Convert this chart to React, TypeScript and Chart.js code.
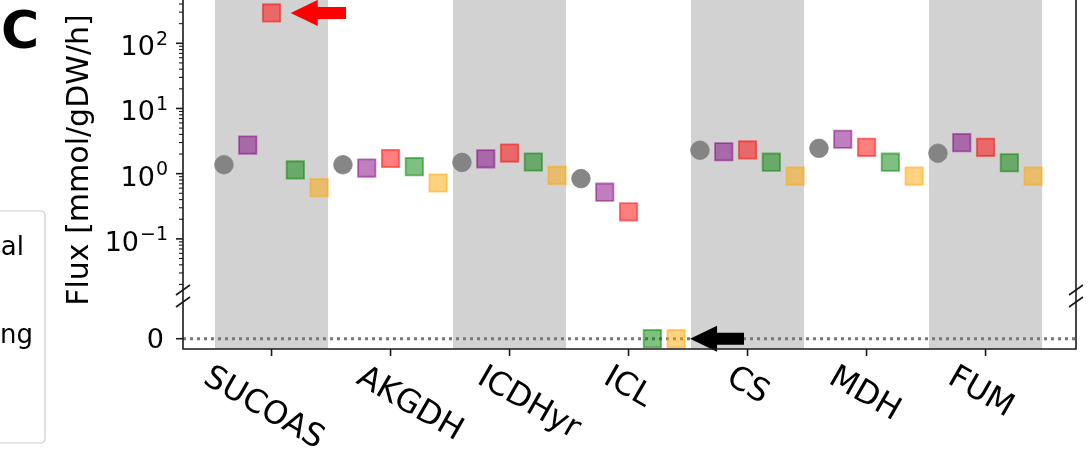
import React, { useEffect, useRef } from 'react';
import { Chart, registerables } from 'chart.js';

Chart.register(...registerables);

// ---------- data ----------
const categories = ['SUCOAS', 'AKGDH', 'ICDHyr', 'ICL', 'CS', 'MDH', 'FUM'];
const grayFlux = [1.37, 1.37, 1.49, 0.84, 2.29, 2.45, 2.06];
const purpleFlux = [2.75, 1.22, 1.69, 0.52, 2.17, 3.37, 2.99];
const redFlux = [292, 1.71, 2.07, 0.26, 2.31, 2.54, 2.54];
const greenFlux = [1.14, 1.28, 1.51, 0, 1.5, 1.5, 1.47];
const orangeFlux = [0.61, 0.72, 0.94, 0, 0.92, 0.92, 0.92];
const logTickExponents = [-1, 0, 1, 2];
const zeroTickLabels = ['0'];
const shadedCategories = [0, 2, 4, 6];
const legendFragments = ['al', 'ng'];
const yAxisTitle = 'Flux [mmol/gDW/h]';
const panelLetter = 'C';

// ---------- styling ----------
const seriesOffsets = [-0.4, -0.2, 0, 0.2, 0.4];
const labelShiftPx = [-8, 19, 19, -1, 0, -2, -5];
const SERIES = [
  { values: grayFlux, rgb: '128,128,128', alpha: 0.95, style: 'circle' },
  { values: purpleFlux, rgb: '128,0,128', alpha: 0.5, style: 'rect' },
  { values: redFlux, rgb: '255,0,0', alpha: 0.5, style: 'rect' },
  { values: greenFlux, rgb: '0,128,0', alpha: 0.5, style: 'rect' },
  { values: orangeFlux, rgb: '255,165,0', alpha: 0.5, style: 'rect' },
];
const FONT = "'DejaVu Sans', 'Liberation Sans', sans-serif";
const X_MIN = -0.744;
const X_MAX = 6.76;
const YTOP_MIN = 0.0133;
const YTOP_MAX = 461;
const YBOT_MIN = -0.241;
const YBOT_MAX = 1;

function buildDatasets() {
  const ds: any[] = [];
  SERIES.forEach((s, k) => {
    const color = `rgba(${s.rgb},${s.alpha})`;
    const common = {
      backgroundColor: color,
      borderColor: color,
      pointStyle: s.style,
      pointRadius: s.style === 'circle' ? 9.3 : 12.3,
      pointHoverRadius: s.style === 'circle' ? 9.3 : 12.3,
      borderWidth: s.style === 'circle' ? 0.8 : 1.8,
      clip: false,
    };
    const top = s.values
      .map((v, i) => (v > 0 ? { x: i + seriesOffsets[k], y: v } : null))
      .filter(Boolean);
    const bot = s.values
      .map((v, i) => (v === 0 ? { x: i + seriesOffsets[k], y: v } : null))
      .filter(Boolean);
    ds.push({ ...common, data: top, yAxisID: 'yTop' });
    if (bot.length) ds.push({ ...common, data: bot, yAxisID: 'yBot' });
  });
  return ds;
}

function drawArrow(ctx: CanvasRenderingContext2D, tipX: number, endX: number, cy: number, color: string) {
  const headLen = 27;
  const headHalf = 13;
  const tailHalf = 6;
  const baseX = tipX + headLen;
  ctx.save();
  ctx.fillStyle = color;
  ctx.beginPath();
  ctx.moveTo(tipX, cy);
  ctx.lineTo(baseX, cy - headHalf);
  ctx.lineTo(baseX, cy - tailHalf);
  ctx.lineTo(endX, cy - tailHalf);
  ctx.lineTo(endX, cy + tailHalf);
  ctx.lineTo(baseX, cy + tailHalf);
  ctx.lineTo(baseX, cy + headHalf);
  ctx.closePath();
  ctx.fill();
  ctx.restore();
}

const decor = {
  id: 'decor',
  beforeDatasetsDraw(chart: any) {
    const { ctx, chartArea: a, scales } = chart;
    const x = scales.x;
    const yb = scales.yBot;
    ctx.save();
    ctx.fillStyle = 'rgb(210,210,210)';
    for (const i of shadedCategories) {
      const l = x.getPixelForValue(i - 0.475);
      const r = x.getPixelForValue(i + 0.475);
      ctx.fillRect(l, a.top, r - l, a.bottom - a.top);
    }
    const y0 = yb.getPixelForValue(0);
    ctx.strokeStyle = 'rgb(120,120,120)';
    ctx.lineWidth = 3;
    ctx.setLineDash([3, 4]);
    ctx.beginPath();
    ctx.moveTo(a.left, y0);
    ctx.lineTo(a.right, y0);
    ctx.stroke();
    ctx.restore();
  },
  afterDatasetsDraw(chart: any) {
    const { ctx, chartArea: a, scales } = chart;
    const x = scales.x;
    const yt = scales.yTop;
    const yb = scales.yBot;

    // arrows
    drawArrow(ctx, x.getPixelForValue(0.161), x.getPixelForValue(0.626), yt.getPixelForValue(redFlux[0]), '#ff0000');
    drawArrow(ctx, x.getPixelForValue(3.517), x.getPixelForValue(3.97), yb.getPixelForValue(0), '#000000');

    ctx.save();
    const spine = '#1a1a1a';
    ctx.strokeStyle = spine;
    ctx.lineWidth = 1.6;
    ctx.beginPath();
    ctx.moveTo(a.left, a.top);
    ctx.lineTo(a.left, a.bottom);
    ctx.moveTo(a.right, a.top);
    ctx.lineTo(a.right, a.bottom);
    ctx.moveTo(a.left - 0.8, a.bottom);
    ctx.lineTo(a.right + 0.8, a.bottom);
    ctx.stroke();

    // break marks
    const yBreak = yt.bottom;
    ctx.lineWidth = 1.6;
    ctx.beginPath();
    for (const sx of [a.left, a.right]) {
      for (const dy of [-6, 6]) {
        ctx.moveTo(sx - 7, yBreak + dy + 5);
        ctx.lineTo(sx + 7, yBreak + dy - 5);
      }
    }
    ctx.stroke();

    // y ticks (log)
    for (let e = -2; e <= 2; e++) {
      for (let m = 1; m <= 9; m++) {
        const v = m * Math.pow(10, e);
        if (v < YTOP_MIN * 1.2 || v > YTOP_MAX) continue;
        const py = yt.getPixelForValue(v);
        ctx.lineWidth = m === 1 ? 1.6 : 1.1;
        const len = m === 1 ? 7 : 4;
        ctx.beginPath();
        ctx.moveTo(a.left - len, py);
        ctx.lineTo(a.left, py);
        ctx.stroke();
      }
    }
    // zero tick
    const y0 = yb.getPixelForValue(0);
    ctx.lineWidth = 1.6;
    ctx.beginPath();
    ctx.moveTo(a.left - 7, y0);
    ctx.lineTo(a.left, y0);
    ctx.stroke();
    // x ticks
    ctx.beginPath();
    categories.forEach((_, i) => {
      const px = x.getPixelForValue(i);
      ctx.moveTo(px, a.bottom);
      ctx.lineTo(px, a.bottom + 7);
    });
    ctx.stroke();

    // y tick labels
    ctx.fillStyle = '#000';
    ctx.textBaseline = 'alphabetic';
    ctx.textAlign = 'right';
    const labelRight = a.left - 15;
    for (const e of logTickExponents) {
      const py = yt.getPixelForValue(Math.pow(10, e));
      const sup = e < 0 ? '\u2212' + Math.abs(e) : String(e);
      ctx.font = `19px ${FONT}`;
      const sw = ctx.measureText(sup).width;
      ctx.fillText(sup, labelRight, py + 1.5);
      ctx.font = `27px ${FONT}`;
      ctx.fillText('10', labelRight - sw - 1, py + 12);
    }
    ctx.font = `27px ${FONT}`;
    ctx.fillText(zeroTickLabels[0], a.left - 19, y0 + 9.5);

    // x tick labels (rotated 30deg clockwise, centred)
    const xfs = 32;
    ctx.font = `${xfs}px ${FONT}`;
    ctx.textAlign = 'center';
    ctx.textBaseline = 'middle';
    const ang = Math.PI / 6;
    categories.forEach((c, i) => {
      const px = x.getPixelForValue(i);
      const w = ctx.measureText(c).width;
      const h = xfs * 0.75;
      const bh = w * Math.sin(ang) + h * Math.cos(ang);
      const cy = a.bottom + 16 + bh / 2;
      ctx.save();
      ctx.translate(px + labelShiftPx[i], cy);
      ctx.rotate(ang);
      ctx.fillText(c, 0, 0);
      ctx.restore();
    });

    // y axis title
    ctx.save();
    ctx.font = `30px ${FONT}`;
    ctx.textAlign = 'center';
    ctx.textBaseline = 'alphabetic';
    ctx.translate(88, 160);
    ctx.rotate(-Math.PI / 2);
    ctx.fillText(yAxisTitle, 0, 0);
    ctx.restore();

    // panel letter
    ctx.font = `bold 52px ${FONT}`;
    ctx.textAlign = 'left';
    ctx.textBaseline = 'alphabetic';
    ctx.fillText(panelLetter, 1, 48);

    // clipped legend of neighbouring panel
    ctx.strokeStyle = 'rgb(204,204,204)';
    ctx.lineWidth = 1.2;
    ctx.beginPath();
    (ctx as any).roundRect(-10, 211, 55, 232, 4);
    ctx.stroke();
    ctx.fillStyle = '#000';
    ctx.font = `26px ${FONT}`;
    ctx.textAlign = 'right';
    ctx.fillText(legendFragments[0], 24, 255);
    ctx.fillText(legendFragments[1], 33, 343);
    ctx.restore();
  },
};

export default function App() {
  const ref = useRef<HTMLCanvasElement>(null);
  useEffect(() => {
    document.body.style.margin = '0';
    const fitWidth = (s: any) => {
      s.width = 183;
    };
    const chart = new Chart(ref.current as HTMLCanvasElement, {
      type: 'scatter',
      data: { datasets: buildDatasets() },
      options: {
        animation: false,
        responsive: false,
        devicePixelRatio: 1,
        layout: { autoPadding: false, padding: { left: 0, right: 14, top: 0, bottom: 0 } },
        plugins: { legend: { display: false }, tooltip: { enabled: false }, title: { display: false } },
        scales: {
          x: {
            type: 'linear',
            min: X_MIN,
            max: X_MAX,
            grid: { display: false },
            border: { display: false },
            ticks: { display: false },
            afterFit: (s: any) => {
              s.height = 105;
            },
          },
          yBot: {
            type: 'linear',
            position: 'left',
            stack: 'flux',
            stackWeight: 53,
            min: YBOT_MIN,
            max: YBOT_MAX,
            grid: { display: false },
            border: { display: false },
            ticks: { display: false },
            afterFit: fitWidth,
          },
          yTop: {
            type: 'logarithmic',
            position: 'left',
            stack: 'flux',
            stackWeight: 296,
            min: YTOP_MIN,
            max: YTOP_MAX,
            grid: { display: false },
            border: { display: false },
            ticks: { display: false },
            afterFit: fitWidth,
          },
        },
      } as any,
      plugins: [decor],
    });
    return () => chart.destroy();
  }, []);
  return (
    <div style={{ width: 1090, height: 454, position: 'relative', background: '#fff' }}>
      <canvas ref={ref} width={1090} height={454} style={{ display: 'block' }} />
    </div>
  );
}
